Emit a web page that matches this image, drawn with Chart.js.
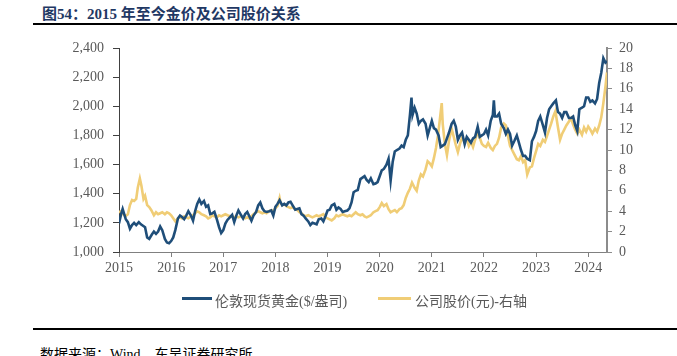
<!DOCTYPE html>
<html><head><meta charset="utf-8">
<script src="https://cdn.jsdelivr.net/npm/chart.js@4.4.1/dist/chart.umd.min.js"></script>
<style>
html,body{margin:0;padding:0;background:#fff;width:677px;height:356px;overflow:hidden;position:relative;font-family:"Liberation Serif","Noto Sans CJK SC",serif;}
#title{position:absolute;left:42px;top:2px;font-size:15px;font-weight:bold;color:#1f3864;white-space:nowrap;}
#tline{position:absolute;left:33px;right:0;top:23px;height:2px;background:#000;}
#bline{position:absolute;left:33px;right:0;top:328px;height:2px;background:#000;}
#src{position:absolute;left:40px;top:343px;font-size:14px;color:#000;white-space:nowrap;}
#c{position:absolute;left:0;top:0;}
.lg{position:absolute;top:290px;font-size:14px;color:#595959;white-space:nowrap;}
.sw{position:absolute;height:3px;top:297px;}
</style></head><body>
<div id="title">图54：2015 年至今金价及公司股价关系</div>
<div id="tline"></div>
<canvas id="c" width="677" height="300"></canvas>
<div class="sw" style="left:182px;width:30px;background:#1f4e79"></div>
<div class="lg" style="left:215px">伦敦现货黄金($/盎司)</div>
<div class="sw" style="left:378px;width:33px;background:#f0cd76"></div>
<div class="lg" style="left:415px">公司股价(元)-右轴</div>
<div id="bline"></div>
<div id="src">数据来源：Wind，东吴证券研究所</div>
<script>
const goldDates = [2015.00,2015.04,2015.07,2015.10,2015.13,2015.17,2015.21,2015.25,2015.29,2015.33,2015.38,2015.42,2015.46,2015.50,2015.54,2015.58,2015.63,2015.67,2015.71,2015.75,2015.79,2015.83,2015.88,2015.92,2015.96,
2016.00,2016.04,2016.08,2016.13,2016.17,2016.21,2016.25,2016.29,2016.33,2016.38,2016.42,2016.46,2016.50,2016.54,2016.58,2016.63,2016.67,2016.71,2016.75,2016.79,2016.83,2016.88,2016.92,2016.96,
2017.00,2017.04,2017.08,2017.13,2017.17,2017.21,2017.25,2017.29,2017.33,2017.38,2017.42,2017.46,2017.50,2017.54,2017.58,2017.63,2017.67,2017.71,2017.75,2017.79,2017.83,2017.88,2017.92,2017.96,
2018.00,2018.04,2018.08,2018.13,2018.17,2018.21,2018.25,2018.29,2018.33,2018.38,2018.42,2018.46,2018.50,2018.54,2018.58,2018.63,2018.67,2018.71,2018.75,2018.79,2018.83,2018.88,2018.92,2018.96,
2019.00,2019.04,2019.08,2019.13,2019.17,2019.21,2019.25,2019.29,2019.33,2019.38,2019.42,2019.46,2019.50,2019.54,2019.58,2019.63,2019.67,2019.71,2019.75,2019.79,2019.83,2019.88,2019.92,2019.96,
2020.00,2020.04,2020.08,2020.13,2020.17,2020.21,2020.25,2020.29,2020.33,2020.38,2020.42,2020.46,2020.50,2020.54,2020.58,2020.61,2020.63,2020.67,2020.71,2020.75,2020.79,2020.83,2020.88,2020.92,2020.96,
2021.00,2021.04,2021.08,2021.13,2021.17,2021.21,2021.25,2021.29,2021.33,2021.38,2021.42,2021.46,2021.50,2021.54,2021.58,2021.63,2021.67,2021.71,2021.75,2021.79,2021.83,2021.88,2021.92,2021.96,
2022.00,2022.04,2022.08,2022.13,2022.17,2022.19,2022.21,2022.25,2022.29,2022.33,2022.38,2022.42,2022.46,2022.50,2022.54,2022.58,2022.63,2022.67,2022.71,2022.75,2022.79,2022.83,2022.88,2022.92,2022.96,
2023.00,2023.04,2023.08,2023.13,2023.17,2023.21,2023.25,2023.29,2023.33,2023.38,2023.42,2023.46,2023.50,2023.54,2023.58,2023.63,2023.67,2023.71,2023.75,2023.79,2023.83,2023.88,2023.92,2023.96,
2024.00,2024.04,2024.08,2024.13,2024.17,2024.21,2024.25,2024.29,2024.33,2024.36];
const goldPrice = [1195,1260,1295,1260,1225,1205,1160,1185,1200,1185,1205,1190,1180,1170,1100,1090,1120,1140,1125,1140,1175,1150,1090,1065,1060,
1075,1100,1150,1230,1250,1240,1225,1250,1280,1250,1215,1280,1330,1360,1330,1350,1310,1320,1260,1265,1275,1220,1170,1130,
1150,1195,1220,1240,1255,1205,1250,1285,1260,1230,1260,1275,1245,1215,1250,1275,1320,1340,1300,1280,1275,1280,1285,1250,
1310,1330,1355,1320,1330,1320,1340,1345,1320,1290,1295,1300,1260,1250,1230,1210,1185,1200,1195,1190,1225,1230,1210,1245,
1285,1290,1320,1330,1290,1305,1295,1275,1280,1285,1300,1340,1410,1420,1425,1500,1510,1520,1495,1480,1505,1465,1470,1480,
1520,1560,1570,1600,1640,1490,1620,1690,1700,1710,1730,1720,1770,1800,1940,2060,1940,1990,1950,1880,1900,1910,1880,1800,1850,
1900,1850,1840,1800,1720,1730,1740,1780,1820,1880,1900,1860,1770,1800,1820,1740,1790,1770,1750,1780,1790,1860,1790,1800,
1810,1840,1800,1900,1940,2040,1930,1930,1950,1880,1850,1810,1840,1810,1730,1760,1800,1750,1700,1660,1660,1640,1630,1760,1790,
1830,1900,1930,1870,1820,1920,1980,2000,2020,2040,1960,1950,1920,1960,1960,1920,1920,1930,1870,1830,1980,1990,2000,2060,
2060,2030,2040,2020,2050,2160,2230,2330,2300,2310];

const stockDates = [2015.00,2015.04,2015.08,2015.12,2015.17,2015.21,2015.25,2015.29,2015.33,2015.36,2015.40,2015.43,2015.47,2015.50,2015.54,2015.58,2015.62,2015.67,2015.71,2015.75,2015.79,2015.83,2015.88,2015.92,2015.96,
2016.00,2016.04,2016.08,2016.13,2016.17,2016.21,2016.25,2016.29,2016.33,2016.38,2016.42,2016.46,2016.50,2016.54,2016.58,2016.63,2016.67,2016.71,2016.75,2016.79,2016.83,2016.88,2016.92,2016.96,
2017.00,2017.04,2017.08,2017.13,2017.17,2017.21,2017.25,2017.29,2017.33,2017.38,2017.42,2017.46,2017.50,2017.54,2017.58,2017.63,2017.67,2017.71,2017.75,2017.79,2017.83,2017.88,2017.92,2017.96,
2018.00,2018.04,2018.08,2018.10,2018.13,2018.17,2018.21,2018.25,2018.29,2018.33,2018.38,2018.42,2018.46,2018.50,2018.54,2018.58,2018.63,2018.67,2018.71,2018.75,2018.79,2018.83,2018.88,2018.92,2018.96,
2019.00,2019.04,2019.08,2019.13,2019.17,2019.21,2019.25,2019.29,2019.33,2019.38,2019.42,2019.46,2019.50,2019.54,2019.58,2019.63,2019.67,2019.71,2019.75,2019.79,2019.83,2019.88,2019.92,2019.96,
2020.00,2020.04,2020.08,2020.13,2020.17,2020.21,2020.25,2020.29,2020.33,2020.38,2020.42,2020.46,2020.50,2020.54,2020.58,2020.62,2020.67,2020.71,2020.75,2020.79,2020.83,2020.88,2020.92,2020.96,
2021.00,2021.04,2021.08,2021.12,2021.15,2021.19,2021.21,2021.25,2021.29,2021.33,2021.38,2021.42,2021.46,2021.50,2021.54,2021.58,2021.63,2021.67,2021.71,2021.75,2021.79,2021.83,2021.88,2021.92,2021.96,
2022.00,2022.04,2022.08,2022.13,2022.17,2022.21,2022.25,2022.29,2022.33,2022.38,2022.42,2022.46,2022.50,2022.54,2022.58,2022.63,2022.67,2022.71,2022.75,2022.79,2022.83,2022.88,2022.92,2022.96,
2023.00,2023.04,2023.08,2023.13,2023.17,2023.21,2023.25,2023.29,2023.33,2023.37,2023.42,2023.46,2023.50,2023.54,2023.58,2023.63,2023.67,2023.71,2023.75,2023.79,2023.83,2023.88,2023.92,2023.96,
2024.00,2024.04,2024.08,2024.13,2024.17,2024.21,2024.25,2024.29,2024.33,2024.36];
const stockPrice = [3.9,4.0,3.7,3.5,3.7,4.6,5.1,5.0,5.2,6.3,7.2,6.5,5.2,5.5,4.6,4.4,4.1,3.6,3.9,3.7,3.8,3.9,3.7,3.9,3.8,
3.6,3.3,3.0,3.3,3.4,3.3,3.5,3.4,3.3,3.5,3.6,3.8,4.0,3.9,3.7,3.6,3.5,3.3,3.4,3.6,3.5,3.4,3.6,3.5,
3.6,3.7,3.6,3.5,3.5,3.4,3.5,3.4,3.5,3.4,3.3,3.4,3.3,3.5,3.7,3.9,4.0,3.9,3.8,3.9,3.8,4.0,4.1,4.0,
4.3,4.5,5.3,4.8,4.6,4.7,4.5,4.4,4.3,4.4,4.2,4.1,3.9,3.8,3.6,3.5,3.6,3.5,3.4,3.5,3.6,3.5,3.6,3.7,3.4,
3.3,3.2,3.1,3.3,3.6,3.5,3.6,3.7,3.6,3.5,3.6,3.5,3.7,3.9,3.7,3.6,3.7,3.5,3.4,3.5,3.6,3.9,4.0,4.1,
4.4,4.8,4.5,4.7,4.2,3.9,4.0,4.1,3.9,4.2,4.3,4.6,5.3,5.8,6.2,6.8,6.3,6.0,7.0,7.6,7.4,8.1,8.9,8.7,
8.4,9.2,10.2,11.5,12.8,14.6,12.5,10.6,9.5,10.9,12.1,11.3,10.5,9.8,10.6,11.2,10.8,11.1,10.4,10.8,10.3,11.0,11.8,11.2,10.6,
10.4,10.3,10.7,10.2,10.0,10.4,10.6,11.2,12.2,12.6,12.4,11.4,10.4,10.0,9.6,9.1,9.0,9.4,8.8,9.0,7.6,8.3,8.4,9.2,
9.9,10.6,10.4,11.0,10.8,11.4,12.0,12.6,13.3,13.8,12.2,11.0,11.6,12.0,12.4,12.8,13.1,12.5,12.0,11.6,12.0,11.5,12.2,11.8,
12.3,12.0,11.6,12.1,11.8,12.4,13.2,14.6,16.2,17.6];

const leftTicks = [1000,1200,1400,1600,1800,2000,2200,2400];
const rightTicks = [0,2,4,6,8,10,12,14,16,18,20];
const yearTicks = [2015,2016,2017,2018,2019,2020,2021,2022,2023,2024];

const goldData = goldDates.map((d,i)=>({x:d,y:goldPrice[i]}));
const stockData = stockDates.map((d,i)=>({x:d,y:stockPrice[i]}));
const tickFont = {family:'"Liberation Serif", serif', size:14};
const tickColor = '#595959';

new Chart(document.getElementById('c'), {
  type:'line',
  data:{datasets:[
    {label:'伦敦现货黄金($/盎司)', data:goldData, yAxisID:'yL', borderColor:'#1f4e79', borderWidth:2.6, pointRadius:0, tension:0},
    {label:'公司股价(元)-右轴', data:stockData, yAxisID:'yR', borderColor:'#f0cd76', borderWidth:2.6, pointRadius:0, tension:0}
  ]},
  options:{
    responsive:false, animation:false, devicePixelRatio:1,
    layout:{padding:{top:48,left:0,right:0,bottom:0}},
    plugins:{legend:{display:false}, tooltip:{enabled:false}},
    scales:{
      x:{type:'linear', min:2015, max:2024.36,
        afterBuildTicks:s=>{s.ticks = yearTicks.map(v=>({value:v}));},
        afterFit:s=>{s.height=48;},
        grid:{drawOnChartArea:false, tickLength:5, color:'#808080'},
        border:{color:'#808080', width:1},
        ticks:{font:tickFont, color:tickColor, padding:3, maxRotation:0, autoSkip:false, callback:v=>String(v)}},
      yL:{position:'left', min:1000, max:2400,
        afterBuildTicks:s=>{s.ticks = leftTicks.map(v=>({value:v}));},
        afterFit:s=>{s.width=119;},
        grid:{drawOnChartArea:false, tickLength:6, color:'#404040'},
        border:{color:'#404040', width:1},
        ticks:{font:tickFont, color:tickColor, padding:9, callback:v=>v.toLocaleString('en-US')}},
      yR:{position:'right', min:0, max:20,
        afterBuildTicks:s=>{s.ticks = rightTicks.map(v=>({value:v}));},
        afterFit:s=>{s.width=70;},
        grid:{drawOnChartArea:false, tickLength:5, color:'#8c8c8c'},
        border:{color:'#8c8c8c', width:2},
        ticks:{font:tickFont, color:tickColor, padding:7, callback:v=>String(v)}}
    }
  }
});
</script>
</body></html>
